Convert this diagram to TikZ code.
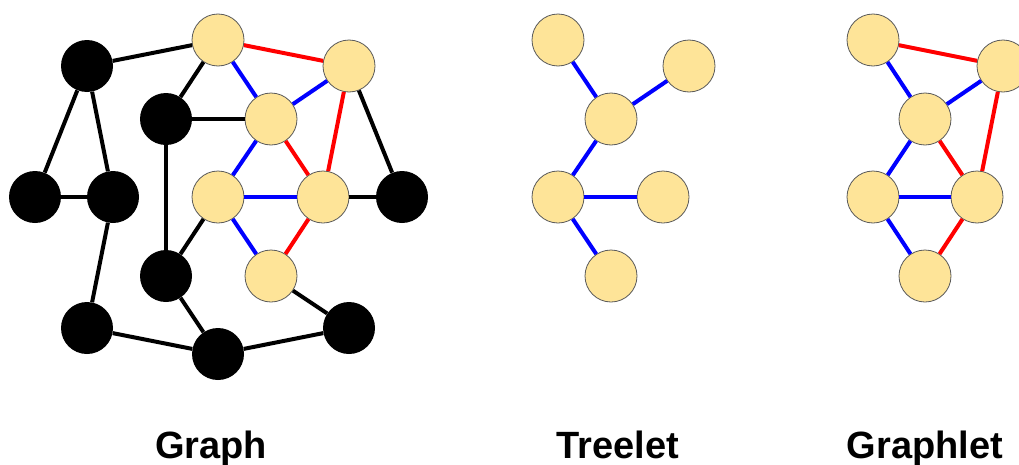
\documentclass[tikz,border=0pt]{standalone}
\usepackage{fontspec}
\setmainfont{Liberation Sans}
\definecolor{nodeyellow}{RGB}{254,228,152}

\begin{document}
\begin{tikzpicture}[x=0.75pt, y=-0.75pt,
    sub node/.style = {circle, draw=black!65, line width=0.6pt, fill=nodeyellow, minimum size=39pt, inner sep=0pt},
    rest node/.style = {circle, fill=black, minimum size=39pt, inner sep=0pt},
    edge/.style = {line width=3pt},
    title node/.style = {font=\fontsize{28.5}{34}\selectfont\bfseries, anchor=base}
]
\useasboundingbox (0,0) rectangle (1019,464);
\clip (0,0) rectangle (1019,464);

% --- GRAPH ---
% vertices outside the pattern
\foreach \name/\x/\y in {
    b1/87/66, b2/166/119, b3/35/197, b4/113/197, b5/402/197,
    b6/166/276, b7/87/328, b8/218/354, b9/349/328%
} {
    \node[rest node] (\name) at (\x,\y) {};
}
% vertices of the pattern
\foreach \name/\x/\y in {
    y1/218/40, y2/349/66, y3/271/119, y4/218/197, y5/323/197, y6/271/276%
} {
    \node[sub node] (\name) at (\x,\y) {};
}

\foreach \a/\b in {
    b1/y1, b1/b3, b1/b4, b3/b4, b4/b7, b7/b8, b8/b6, b8/b9, b9/y6,
    b2/y1, b2/y3, b2/b6, b6/y4, y2/b5, y5/b5%
} {
    \draw[edge] (\a) -- (\b);
}
\foreach \a/\b in {y1/y3, y3/y2, y3/y4, y4/y5, y4/y6} {
    \draw[edge, blue] (\a) -- (\b);
}
\foreach \a/\b in {y1/y2, y2/y5, y3/y5, y5/y6} {
    \draw[edge, red] (\a) -- (\b);
}

% --- TREELET ---
\foreach \name/\x/\y in {
    t1/558/40, t2/689/66, t3/611/119, t4/558/197, t5/663/197, t6/611/276%
} {
    \node[sub node] (\name) at (\x,\y) {};
}
\foreach \a/\b in {t1/t3, t3/t2, t3/t4, t4/t5, t4/t6} {
    \draw[edge, blue] (\a) -- (\b);
}

% --- GRAPHLET ---
\foreach \name/\x/\y in {
    g1/873/40, g2/1003/66, g3/925/119, g4/873/197, g5/977/197, g6/925/276%
} {
    \node[sub node] (\name) at (\x,\y) {};
}
\foreach \a/\b in {g1/g3, g3/g2, g3/g4, g4/g5, g4/g6} {
    \draw[edge, blue] (\a) -- (\b);
}
\foreach \a/\b in {g1/g2, g2/g5, g3/g5, g5/g6} {
    \draw[edge, red] (\a) -- (\b);
}

% titles
\node[title node] (graph title) at (211,458) {Graph};
\node[title node] (treelet title) at (618,458) {Treelet};
\node[title node] (graphlet title) at (925,458) {Graphlet};

\end{tikzpicture}
\end{document}
